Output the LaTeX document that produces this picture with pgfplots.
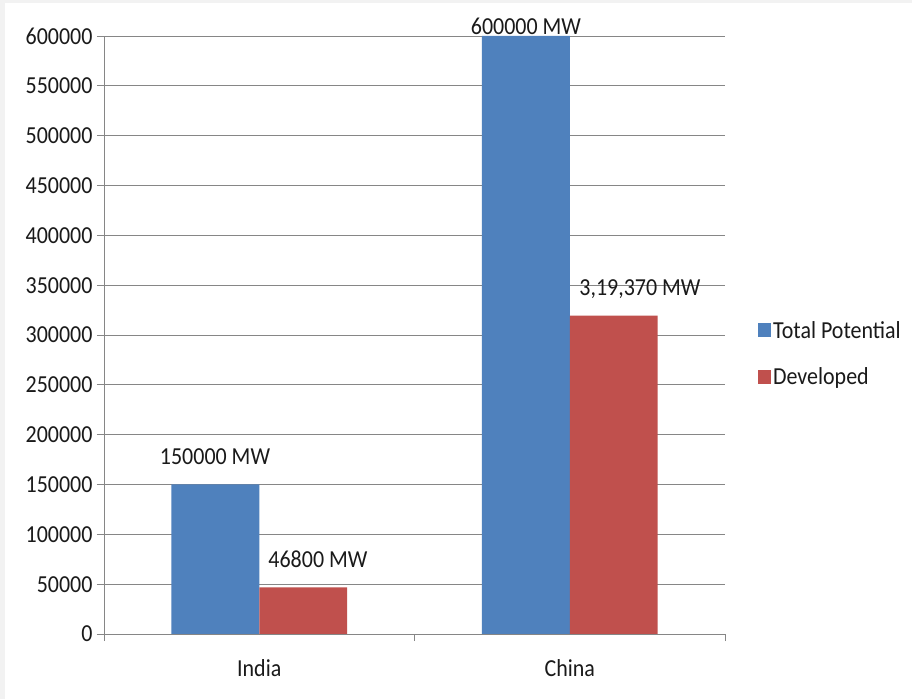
\documentclass[border=0pt]{standalone}
\usepackage{pgfplots}
\pgfplotsset{compat=1.18}
\usepackage{fontspec}
\setmainfont{Carlito}[FakeStretch=0.9]
\definecolor{cblue}{HTML}{4F81BD}
\definecolor{cred}{HTML}{C0504D}
\definecolor{cgrid}{HTML}{868686}
\definecolor{ctext}{HTML}{1A1A1A}
\newcommand{\cfont}{\fontsize{24.5}{28}\selectfont}
\begin{document}
\begin{tikzpicture}
\fill[black!5] (0bp,0bp) rectangle (912bp,699bp);
\fill[white] (5bp,0bp) rectangle (912bp,696bp);
\begin{axis}[
  at={(104bp,65bp)}, anchor=south west,
  scale only axis, width=621bp, height=598bp,
  xmin=-0.5, xmax=1.5, ymin=0, ymax=600000,
  enlargelimits=false, clip=false,
  axis x line*=bottom, axis y line*=left,
  axis line style={cgrid, line width=0.8bp, -},
  ytick={0,50000,...,600000},
  scaled y ticks=false,
  yticklabel style={/pgf/number format/fixed, /pgf/number format/1000 sep={}, font=\cfont, text=ctext, xshift=-1bp},
  /pgf/number format/assume math mode=true,
  ymajorgrids, grid style={cgrid, line width=0.8bp},
  major tick length=7bp,
  tick style={cgrid, line width=0.8bp},
  tick align=outside,
  xtick={-0.5,0.5,1.5}, xticklabels={},
  extra x ticks={0,1}, extra x tick labels={India,China},
  extra x tick style={major tick length=0pt, xmajorgrids=false,
     xticklabel style={font=\cfont, text=ctext, yshift=-22bp}},
  ybar, bar width=0.283,
  legend style={draw=none, fill=none, at={(1.053,0.469)}, anchor=west,
     font=\cfont, text=ctext, row sep=24bp,
     legend cell align=left, inner sep=0pt},
  legend image code/.code={\fill[#1] (0bp,-7bp) rectangle (13bp,7bp);},
]
\addplot[fill=cblue, draw=none, bar shift=-0.1415] coordinates {(0,150000) (1,600000)};
\addlegendentry{Total Potential}
\addplot[fill=cred, draw=none, bar shift=0.1415] coordinates {(0,46800) (1,319370)};
\addlegendentry{Developed}
\begin{scope}[every node/.style={font=\cfont, text=ctext, inner sep=0pt, anchor=base}]
\node at (axis cs:-0.1425,169600) {150000 MW};
\node at (axis cs:0.189,67200) {46800 MW};
\node at (axis cs:0.859,601000) {600000 MW};
\node at (axis cs:1.226,340100) {3,19,370 MW};
\end{scope}
\end{axis}
\end{tikzpicture}
\end{document}
